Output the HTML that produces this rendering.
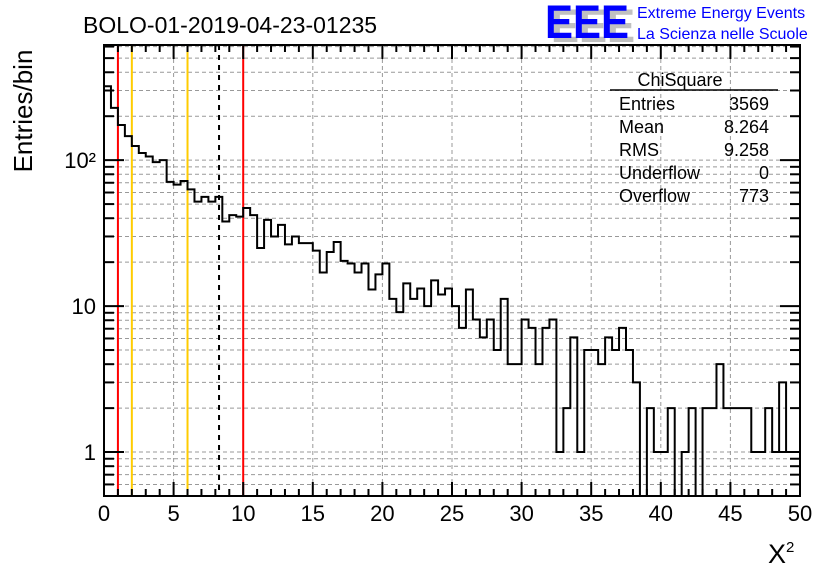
<!DOCTYPE html>
<html><head><meta charset="utf-8"><style>
html,body{margin:0;padding:0;background:#fff}
svg{display:block}
text{font-family:"Liberation Sans",sans-serif}
</style></head><body>
<svg id="c" width="836" height="572" viewBox="0 0 836 572">
<rect width="836" height="572" fill="#fff"/>
<g id="grid"></g>
<g id="lines"></g>
<g id="hist"></g>
<g id="axes"></g>
<text x="83" y="33" font-size="23">BOLO-01-2019-04-23-01235</text>
<g>
<text x="551" y="42" font-size="47" font-weight="bold" fill="#c0c0c0" textLength="84" lengthAdjust="spacingAndGlyphs">EEE</text>
<text x="545" y="38" font-size="47" font-weight="bold" fill="#0000ff" textLength="84" lengthAdjust="spacingAndGlyphs">EEE</text>
<text x="637" y="18" font-size="16" fill="#0000ff">Extreme Energy Events</text>
<text x="637" y="39" font-size="16" fill="#0000ff">La Scienza nelle Scuole</text>
</g>
<g font-size="18">
<text x="680" y="86" text-anchor="middle">ChiSquare</text>
<line x1="610" y1="90" x2="778" y2="90" stroke="#000" stroke-width="1.5"/>
<text x="619" y="110">Entries</text><text x="769" y="110" text-anchor="end">3569</text>
<text x="619" y="133">Mean</text><text x="769" y="133" text-anchor="end">8.264</text>
<text x="619" y="156">RMS</text><text x="769" y="156" text-anchor="end">9.258</text>
<text x="619" y="179">Underflow</text><text x="769" y="179" text-anchor="end">0</text>
<text x="619" y="202">Overflow</text><text x="769" y="202" text-anchor="end">773</text>
</g>
<text transform="translate(32,111) rotate(-90)" font-size="26" text-anchor="middle">Entries/bin</text>
<text x="768" y="563" font-size="27" font-family="Liberation Serif">X<tspan font-size="15" dy="-11">2</tspan></text>
</svg>
<script>
const binWidth = 0.5;
const counts = [321,228,174,146,125,112,106,97,100,71,68,72,63,52,56,52,56,38,42,41,
47,42,25,39,30,36,26.5,30,27,27,24,17,23.5,27.5,20.4,19.6,17,19.6,13,16.5,
19.6,11.2,9.1,14.3,11.2,13.2,10,15,12,13.2,10,7.1,13,8.1,6.1,8.1,5,11.2,4,4,
8.1,7.1,4,7.1,8.1,1,2,6.1,1,5,5,4,6.1,5,7.1,5,3,0,2,1,
1,2,0,1,2,0,2,2,4,2,2,2,2,1,1,2,1,3,1,1];
const xTicks = [0,5,10,15,20,25,30,35,40,45,50];
const yTickLabels = [[1,"1"],[10,"10"],[100,"10²"]];
const refLines = [[1,"#ff0000",""],[2,"#ffcc00",""],[6,"#ffcc00",""],[8.264,"#000","5,5"],[10,"#ff0000",""]];

const L=104,R=800,T=45,B=496,ymin=0.5,ymax=615;
const xs=v=>L+(v-0)/(50-0)*(R-L);
const ys=v=>B-(Math.log10(v)-Math.log10(ymin))/(Math.log10(ymax)-Math.log10(ymin))*(B-T);
const NS="http://www.w3.org/2000/svg";
function mk(tag,attrs,parent){const e=document.createElementNS(NS,tag);for(const k in attrs)e.setAttribute(k,attrs[k]);parent.appendChild(e);return e;}
const grid=document.getElementById('grid'),lines=document.getElementById('lines'),hist=document.getElementById('hist'),axes=document.getElementById('axes');
for(const t of xTicks){if(t===0||t===50)continue;const g=mk('line',{x1:xs(t),x2:xs(t),y1:T,y2:B,stroke:'#999','stroke-dasharray':'4,3','stroke-width':1},grid);

}
const logVals=[];
for(let d=0.1;d<=100;d*=10){for(let m=1;m<=9;m++){const v=+(m*d).toPrecision(3);if(v>ymin&&v<ymax)logVals.push([v,m===1]);}}
for(const [v,maj] of logVals){const g=mk('line',{x1:L,x2:R,y1:ys(v),y2:ys(v),stroke:'#999','stroke-dasharray':'4,3','stroke-width':1},grid);


const tl=maj?20:10;
mk('line',{x1:L,x2:L+tl,y1:ys(v),y2:ys(v),stroke:'#000','stroke-width':2},axes);
mk('line',{x1:R,x2:R-tl,y1:ys(v),y2:ys(v),stroke:'#000','stroke-width':2},axes);}
for(const [v,c,d] of refLines){const l=mk('line',{x1:xs(v),x2:xs(v),y1:T,y2:B,stroke:c,'stroke-width':2},lines);if(d)l.setAttribute('stroke-dasharray',d);

}
let p='';
counts.forEach((c,i)=>{const x0=xs(i*binWidth),x1=xs((i+1)*binWidth);const y=c>0?ys(c):B;
if(i===0)p+=`M${x0},${y}`;else p+=`L${x0},${y}`;p+=`L${x1},${y}`;});
const h=mk('path',{d:p,fill:'none',stroke:'#000','stroke-width':2},hist);


const f=mk('rect',{x:L,y:T,width:R-L,height:B-T,fill:'none',stroke:'#000','stroke-width':2},axes);


for(let t=0;t<=50;t++){const maj=t%5===0,tl=maj?14:7;
mk('line',{x1:xs(t),x2:xs(t),y1:B,y2:B-tl,stroke:'#000','stroke-width':2},axes);
mk('line',{x1:xs(t),x2:xs(t),y1:T,y2:T+tl,stroke:'#000','stroke-width':2},axes);}
for(const t of xTicks){const tx=mk('text',{x:xs(t),y:521,'font-size':22,'text-anchor':'middle'},axes);tx.textContent=String(t);

}
for(const [v,s] of yTickLabels){const tx=mk('text',{x:96,y:ys(v)+8,'font-size':22,'text-anchor':'end'},axes);tx.textContent=s;

}
</script>
</body></html>
